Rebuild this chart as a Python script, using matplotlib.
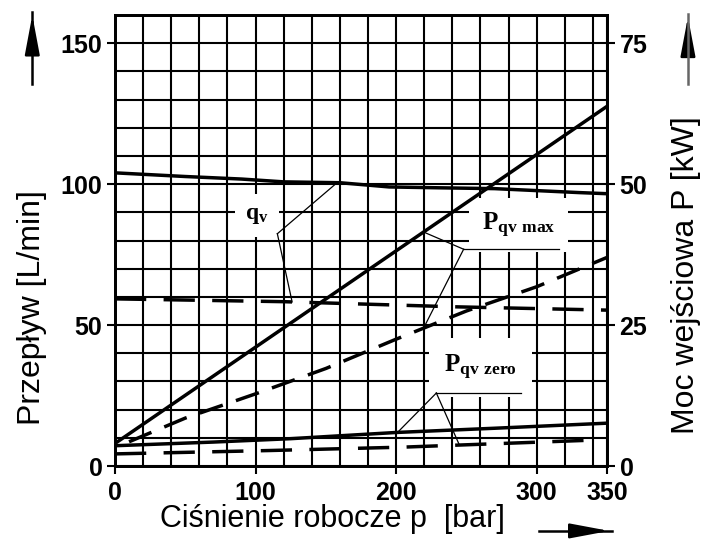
import numpy as np
import matplotlib
matplotlib.use("Agg")
import matplotlib.pyplot as plt

# ---- data ----
# flow q_v [L/min], left axis
p_qv_max = [0, 50, 90, 120, 160, 195, 230, 270, 330, 350]
qv_max = [104.0, 102.7, 101.8, 100.8, 100.5, 99.0, 98.7, 98.4, 97.0, 96.6]

p_qv_dash = [0, 60, 120, 180, 240, 350]
qv_dash = [59.3, 58.8, 58.3, 57.4, 56.5, 55.3]

# input power P [kW], right axis
p_pmax = [0, 350]
pmax_solid = [4.0, 63.8]

p_pmax_dash = [10, 50, 100, 150, 200, 220, 250, 300, 350]
pmax_dash = [4.3, 8.5, 12.8, 17.3, 22.5, 24.5, 27.5, 31.8, 37.0]

p_pzero = [0, 70, 125, 200, 270, 350]
pzero_solid = [3.6, 4.25, 4.85, 5.95, 6.7, 7.6]

p_pzero_dash = [0, 110, 205, 270, 335]
pzero_dash = [2.15, 2.75, 3.35, 3.95, 4.55]

x_ticks = [0, 100, 200, 300, 350]
left_ticks = [0, 50, 100, 150]
right_ticks = [0, 25, 50, 75]

# ---- figure ----
plt.rcParams['font.family'] = ['Liberation Sans', 'DejaVu Sans']
plt.rcParams['mathtext.fontset'] = 'custom'
plt.rcParams['mathtext.bf'] = 'Liberation Serif:bold'
plt.rcParams['mathtext.rm'] = 'Liberation Serif'

fig = plt.figure(figsize=(7.02, 5.39), dpi=100)
ax = fig.add_axes([0.1638, 0.1354, 0.7009, 0.8368])
ax2 = ax.twinx()

ax.set_xlim(0, 350)
ax.set_ylim(0, 160)
ax2.set_ylim(0, 80)

# grid: every 20 bar, every 10 L/min
ax.set_xticks(x_ticks)
ax.set_xticks(np.arange(0, 341, 20), minor=True)
ax.set_yticks(left_ticks)
ax.set_yticks(np.arange(0, 161, 10), minor=True)
ax.grid(which='both', color='black', lw=1.5)
ax.tick_params(which='minor', length=0)
ax.tick_params(which='major', length=6, width=1.5, color='black')
ax.tick_params(axis='x', pad=5)
ax.tick_params(axis='y', pad=3)
ax2.set_yticks(right_ticks)
ax2.tick_params(length=6, width=1.5, pad=3)

for a in (ax, ax2):
    for s in a.spines.values():
        s.set_linewidth(2)
    for lab in a.get_xticklabels() + a.get_yticklabels():
        lab.set_fontsize(18)
        lab.set_fontweight('bold')

# curves
lw = 2.5
ax2.plot(p_qv_max, qv_max, color='black', lw=lw, transform=ax.transData)
ax2.plot(p_qv_dash, qv_dash, color='black', lw=lw, dashes=(9, 5), transform=ax.transData)
ax2.plot(p_pmax, pmax_solid, color='black', lw=lw)
ax2.plot(p_pmax_dash, pmax_dash, color='black', lw=lw, dashes=(7, 4))
ax2.plot(p_pzero, pzero_solid, color='black', lw=lw)
ax2.plot(p_pzero_dash, pzero_dash, color='black', lw=lw, dashes=(9, 5))

# ---- annotations (left-axis units) ----
box = dict(boxstyle='square,pad=0.45', fc='white', ec='none')
thin = dict(color='black', lw=0.9, zorder=3)

# q_v
ax.text(101, 89, r'$\mathbf{q_{v}}$', fontsize=17, ha='center', va='center', bbox=box, zorder=2)
qa = (115.5, 82.4)
ax.plot([qa[0], 158], [qa[1], np.interp(158, p_qv_max, qv_max)], **thin)
ax.plot([qa[0], 126], [qa[1], np.interp(126, p_qv_dash, qv_dash)], **thin)

# P_qv max
ax.text(287, 85.5, r'$\mathbf{P_{qv\ max}}$', fontsize=18, ha='center', va='center',
        bbox=dict(boxstyle='square,pad=0.5', fc='white', ec='none'), zorder=2)
ma = (248, 76.9)
ax.plot([ma[0], 316], [ma[1], ma[1]], **thin)
ax.plot([ma[0], 219.5], [ma[1], 2 * np.interp(219.5, p_pmax, pmax_solid)], **thin)
ax.plot([ma[0], 219.5], [ma[1], 2 * np.interp(219.5, p_pmax_dash, pmax_dash)], **thin)

# P_qv zero
ax.text(260, 35, r'$\mathbf{P_{qv\ zero}}$', fontsize=18, ha='center', va='center',
        bbox=dict(boxstyle='square,pad=0.6', fc='white', ec='none'), zorder=2)
za = (228.6, 25.9)
ax.plot([za[0], 289], [za[1], za[1]], **thin)
ax.plot([za[0], 201], [za[1], 2 * np.interp(201, p_pzero, pzero_solid)], **thin)
ax.plot([za[0], 245], [za[1], 2 * np.interp(245, p_pzero_dash, pzero_dash)], **thin)

# axis titles
fig.text(0.045, 0.43, 'Przepływ [L/min]', rotation=90, fontsize=23, ha='center', va='center')
fig.text(0.977, 0.49, 'Moc wejściowa P [kW]', rotation=90, fontsize=23, ha='center', va='center')
fig.text(0.474, 0.037, 'Ciśnienie robocze p  [bar]', fontsize=22, ha='center', va='center')

# direction arrows
def arrow(xy_from, xy_to, shaft, head='black'):
    fig.add_artist(plt.Line2D([xy_from[0], xy_to[0]], [xy_from[1], xy_to[1]],
                              transform=fig.transFigure, color=shaft, lw=1.8))
    # short arrow for the head only
    mid = (xy_from[0] + 0.7 * (xy_to[0] - xy_from[0]), xy_from[1] + 0.7 * (xy_to[1] - xy_from[1]))
    fig.add_artist(matplotlib.patches.FancyArrowPatch(
        mid, xy_to, transform=fig.transFigure, color=head, lw=1.8,
        arrowstyle='-|>,head_length=1.6,head_width=0.3', mutation_scale=15))

arrow((0.046, 0.845), (0.046, 0.977), 'black')
arrow((0.980, 0.845), (0.980, 0.974), '#666666')
arrow((0.768, 0.015), (0.872, 0.015), 'black')

fig.savefig('out.png', dpi=100)
